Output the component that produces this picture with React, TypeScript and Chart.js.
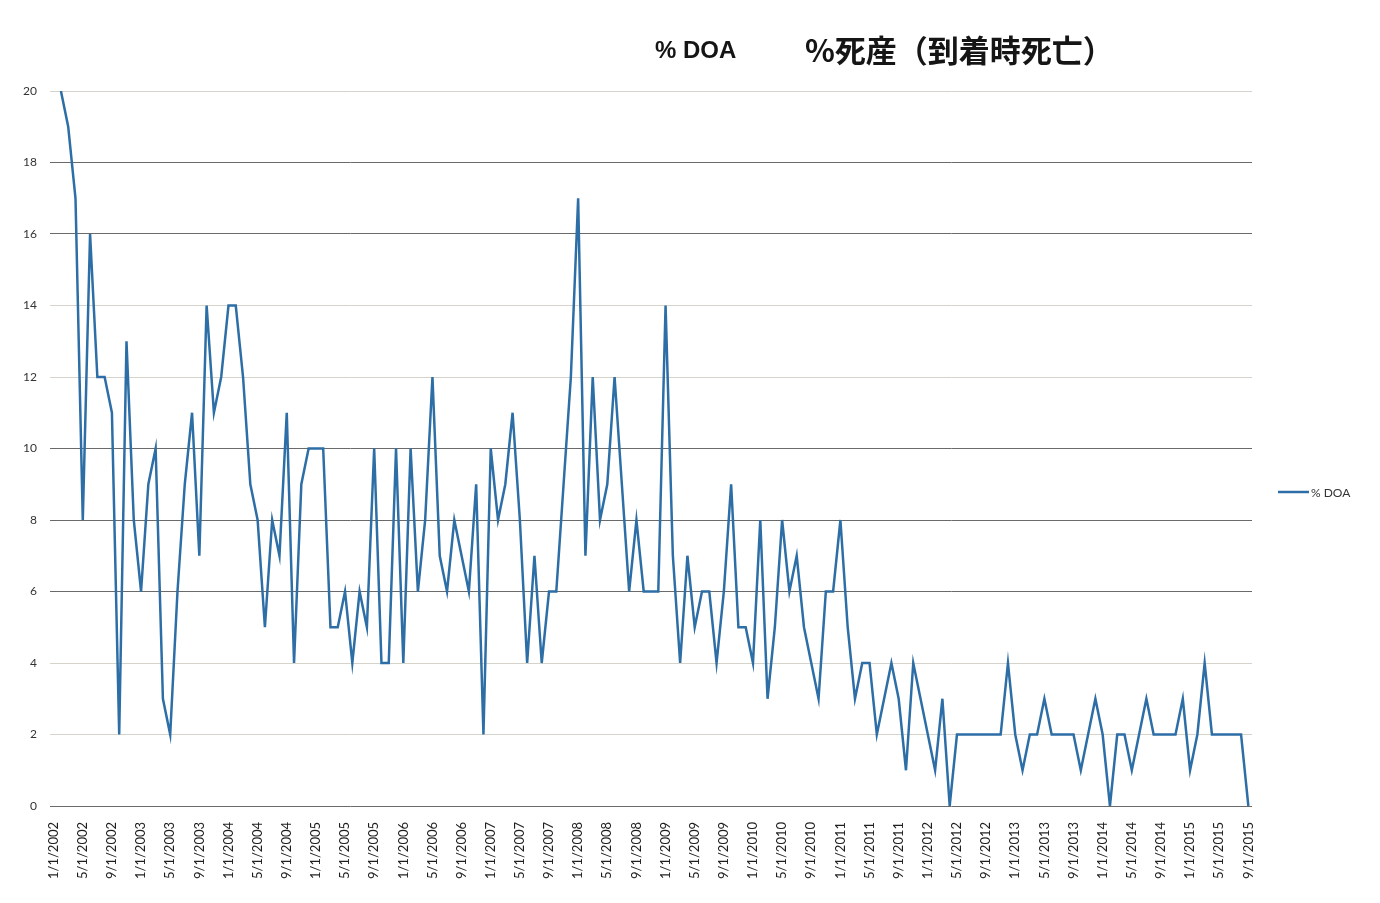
import React, { useEffect, useRef } from "react";
import { Chart, registerables } from "chart.js";

Chart.register(...registerables);

// Category axis: every month from 1/1/2002 to 9/1/2015
const firstYear = 2002;
const lastYear = 2015;
const lastMonth = 9;
const monthLabels: string[] = [];
for (let y = firstYear; y <= lastYear; y++) {
  for (let m = 1; m <= 12; m++) {
    if (y === lastYear && m > lastMonth) break;
    monthLabels.push(`${m}/1/${y}`);
  }
}

// Tick labels shown on the axis (every 4th month)
const shownMonths = [1, 5, 9];

// % DOA, monthly, starting 2/1/2002 (no value for 1/1/2002)
const doaValues: (number | null)[] = [
  20, 19, 17, 8, 16, 12, 12, 11, 2, 13,
  8, 6, 9, 10, 3, 2, 6, 9, 11, 7,
  14, 11, 12, 14, 14, 12, 9, 8, 5, 8,
  7, 11, 4, 9, 10, 10, 10, 5, 5, 6,
  4, 6, 5, 10, 4, 4, 10, 4, 10, 6,
  8, 12, 7, 6, 8, 7, 6, 9, 2, 10,
  8, 9, 11, 8, 4, 7, 4, 6, 6, 9,
  12, 17, 7, 12, 8, 9, 12, 9, 6, 8,
  6, 6, 6, 14, 7, 4, 7, 5, 6, 6,
  4, 6, 9, 5, 5, 4, 8, 3, 5, 8,
  6, 7, 5, 4, 3, 6, 6, 8, 5, 3,
  4, 4, 2, 3, 4, 3, 1, 4, 3, 2,
  1, 3, 0, 2, 2, 2, 2, 2, 2, 2,
  4, 2, 1, 2, 2, 3, 2, 2, 2, 2,
  1, 2, 3, 2, 0, 2, 2, 1, 2, 3,
  2, 2, 2, 2, 3, 1, 2, 4, 2, 2,
  2, 2, 2, 0,
];

const seriesName = "% DOA";
const titleText = "% DOA";
const titleTextJa = "%死産（到着時死亡）";

const yMin = 0;
const yMax = 20;
const yStep = 2;
const darkGridValues = [0, 6, 8, 10, 16, 18];

const lineColor = "#2d6ea6";

const overlayPlugin = {
  id: "overlay",
  beforeDraw(chart: any) {
    const { ctx, width, height } = chart;
    ctx.save();
    ctx.fillStyle = "#ffffff";
    ctx.fillRect(0, 0, width, height);
    ctx.restore();
  },
  afterDraw(chart: any) {
    const { ctx } = chart;
    ctx.save();
    ctx.fillStyle = "#151515";
    ctx.textBaseline = "alphabetic";
    ctx.textAlign = "left";
    ctx.font = 'bold 24px "Liberation Sans", Arial, sans-serif';
    ctx.fillText(titleText, 655, 58);
    ctx.font = 'bold 31px "Noto Sans CJK JP", sans-serif';
    ctx.fillText(titleTextJa, 805, 62);

    // legend
    ctx.strokeStyle = lineColor;
    ctx.lineWidth = 2.5;
    ctx.beginPath();
    ctx.moveTo(1278, 492);
    ctx.lineTo(1309, 492);
    ctx.stroke();
    ctx.fillStyle = "#333";
    ctx.font = '12px Lato, "Liberation Sans", sans-serif';
    ctx.textBaseline = "middle";
    ctx.fillText(seriesName, 1311, 493);
    ctx.restore();
  },
};

export default function App() {
  const canvasRef = useRef<HTMLCanvasElement | null>(null);

  useEffect(() => {
    document.body.style.margin = "0";
    const canvas = canvasRef.current;
    if (!canvas) return;
    const chart = new Chart(canvas, {
      type: "line",
      data: {
        labels: monthLabels,
        datasets: [
          {
            label: seriesName,
            data: [null, ...doaValues],
            borderColor: lineColor,
            backgroundColor: lineColor,
            borderWidth: 2.5,
            pointRadius: 0,
            tension: 0,
            fill: false,
          },
        ],
      },
      options: {
        animation: false,
        responsive: false,
        maintainAspectRatio: false,
        layout: { padding: { top: 91, right: 128, left: 0, bottom: 0 } },
        plugins: {
          legend: { display: false },
          title: { display: false },
          tooltip: { enabled: false },
        },
        scales: {
          x: {
            type: "category",
            offset: true,
            grid: { display: false },
            border: { display: false },
            ticks: {
              autoSkip: false,
              maxRotation: 90,
              minRotation: 90,
              padding: 8,
              color: "#1e1e1e",
              font: { family: 'Lato, "Liberation Sans", sans-serif', size: 13 },
              callback: (_v: any, i: number) => {
                const m = parseInt(monthLabels[i].split("/")[0], 10);
                return shownMonths.includes(m) ? monthLabels[i] : null;
              },
            },
            afterFit: (s: any) => {
              s.height = 97;
            },
          },
          y: {
            min: yMin,
            max: yMax,
            ticks: {
              stepSize: yStep,
              padding: 13,
              color: "#333",
              font: { family: 'Lato, "Liberation Sans", sans-serif', size: 12 },
            },
            grid: {
              drawTicks: false,
              lineWidth: 1,
              color: (c: any) =>
                darkGridValues.includes(c.tick?.value) ? "#6a6a6a" : "#d6d4ca",
            },
            border: { display: false },
            afterFit: (s: any) => {
              s.width = 50;
            },
          },
        },
      },
      plugins: [overlayPlugin],
    });
    return () => chart.destroy();
  }, []);

  return (
    <div style={{ width: 1380, height: 903, background: "#fff" }}>
      <canvas ref={canvasRef} width={1380} height={903} style={{ display: "block" }} />
    </div>
  );
}
